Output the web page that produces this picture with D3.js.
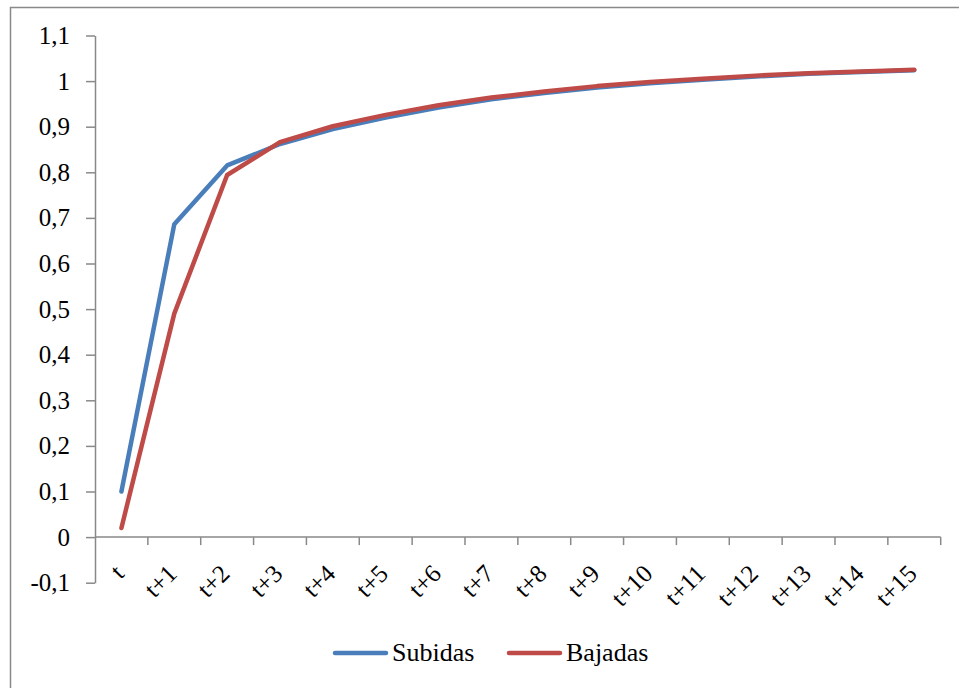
<!DOCTYPE html>
<html><head><meta charset="utf-8">
<script src="https://cdn.jsdelivr.net/npm/d3@7/dist/d3.min.js"></script>
<style>body{margin:0;background:#fff}svg{display:block}</style>
</head><body>
<script>
const categories = ["t","t+1","t+2","t+3","t+4","t+5","t+6","t+7","t+8","t+9","t+10","t+11","t+12","t+13","t+14","t+15"];
const subidas = [0.10,0.686,0.815,0.862,0.895,0.920,0.942,0.960,0.974,0.986,0.995,1.003,1.010,1.016,1.020,1.024];
const bajadas = [0.02,0.49,0.794,0.866,0.901,0.926,0.947,0.964,0.977,0.989,0.998,1.005,1.012,1.017,1.021,1.025];
const yTicks = [-0.1,0,0.1,0.2,0.3,0.4,0.5,0.6,0.7,0.8,0.9,1,1.1];
const seriesNames = ["Subidas","Bajadas"];
const colors = ["#4a7ebb","#be4b48"];

const W = 959, H = 688;
const svg = d3.select("body").append("svg").attr("width",W).attr("height",H);
const font = "'Liberation Serif', 'DejaVu Serif', serif";
const fs = 25;

svg.append("rect").attr("x",10.5).attr("y",7.5).attr("width",W+20).attr("height",H+20)
  .attr("fill","#fff").attr("stroke","#898989").attr("stroke-width",1.5);

const x = d3.scaleBand().domain(categories).range([95,940.7]);
const y = d3.scaleLinear().domain([-0.1,1.1]).range([582.7,35.5]);
const fmt = d => String(Math.round(d*10)/10).replace(".",",");

// Y axis
const yAxis = svg.append("g").attr("transform","translate(95,0)")
  .call(d3.axisLeft(y).tickValues(yTicks).tickSize(9).tickSizeOuter(0).tickFormat(fmt).tickPadding(16));
yAxis.select(".domain").attr("stroke","#898989").attr("stroke-width",1.5);
yAxis.selectAll(".tick line").attr("stroke","#898989").attr("stroke-width",1.5);
yAxis.selectAll("text").style("font-family",font).style("font-size",fs+"px").attr("fill","#000");

// X axis at y=0
const xg = svg.append("g").attr("transform",`translate(0,${y(0)})`);
xg.append("line").attr("x1",95).attr("x2",940.7).attr("stroke","#898989").attr("stroke-width",1.5);
const bounds = categories.map(c=>x(c)+x.bandwidth());
xg.selectAll("line.tk").data(bounds).join("line").attr("class","tk")
  .attr("x1",d=>d).attr("x2",d=>d).attr("y1",0).attr("y2",8)
  .attr("stroke","#898989").attr("stroke-width",1.5);
xg.selectAll("text").data(categories).join("text")
  .style("font-family",font).style("font-size",fs+"px").attr("fill","#000")
  .attr("text-anchor","end")
  .attr("transform",d=>`translate(${x(d)+x.bandwidth()/2+4},${38}) rotate(-45)`)
  .text(d=>d);

// Lines
const line = d3.line().x((d,i)=>x(categories[i])+x.bandwidth()/2).y(d=>y(d));
[subidas,bajadas].forEach((s,k)=>{
  svg.append("path").datum(s).attr("d",line).attr("fill","none")
    .attr("stroke",colors[k]).attr("stroke-width",4.5).attr("stroke-linejoin","round").attr("stroke-linecap","round");
});

// Legend
const legX = [333,507];
seriesNames.forEach((n,k)=>{
  svg.append("line").attr("x1",legX[k]+2).attr("x2",legX[k]+53).attr("y1",653).attr("y2",653)
    .attr("stroke",colors[k]).attr("stroke-width",4.5).attr("stroke-linecap","round");
  svg.append("text").attr("x",legX[k]+59).attr("y",661).style("font-family",font)
    .style("font-size","26px").attr("fill","#000").text(n);
});
</script>
</body></html>
